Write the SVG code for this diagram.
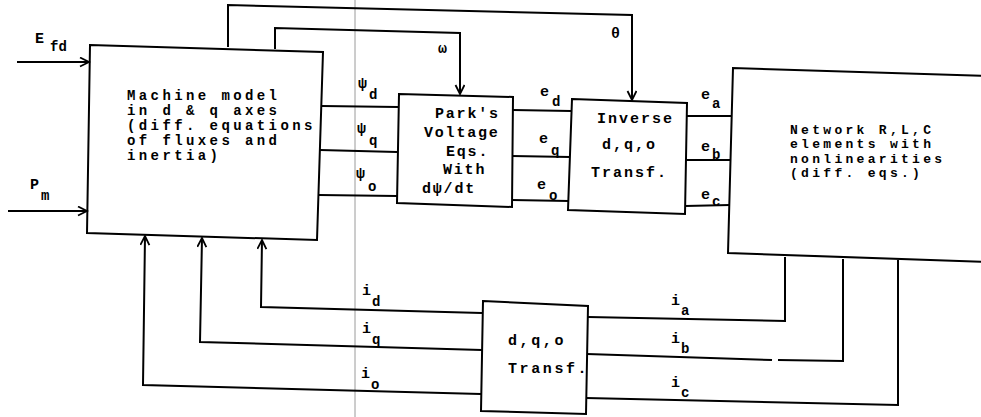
<svg xmlns="http://www.w3.org/2000/svg" width="981" height="417" viewBox="0 0 981 417">
<style>
.box{fill:none;stroke:#000;stroke-width:2;stroke-linejoin:miter}
.ln{fill:none;stroke:#000;stroke-width:2}
.arr{marker-end:url(#ah)}
text{font-family:"Liberation Mono","DejaVu Sans Mono",monospace;font-size:15px;fill:#000;letter-spacing:2.4px}
.mm{font-size:14px;font-weight:bold;letter-spacing:3.4px}
.nw{font-size:13px;font-weight:bold;letter-spacing:3.3px}
.pk{font-size:15px;font-weight:bold;letter-spacing:1.8px}
.lbl{font-size:15px;letter-spacing:0;font-weight:bold}
.sub{font-size:14px}
</style>
<defs>
<marker id="ah" markerWidth="12" markerHeight="12" refX="10" refY="5" orient="auto" markerUnits="userSpaceOnUse">
<path d="M1,0.5 L10,5 L1,9.5" fill="none" stroke="#000" stroke-width="1.8"/>
</marker>
</defs>
<rect width="981" height="417" fill="#fff"/>
<line x1="355" y1="0" x2="355" y2="417" stroke="#9a9a9a" stroke-width="1"/>

<g id="connectors">
<path class="ln arr" d="M17,62 L89,62"/>
<path class="ln arr" d="M8,211 L87,211"/>
<path class="ln arr" d="M228,47 L228,5 L632,15 L632,100"/>
<path class="ln arr" d="M275,49 L275,28 L460,33 L460,94"/>
<path class="ln" d="M322,106 L398,107"/>
<path class="ln" d="M320,150 L397,152"/>
<path class="ln" d="M319,195 L397,196"/>
<path class="ln" d="M513,110 L571,111"/>
<path class="ln" d="M512,156 L570,157"/>
<path class="ln" d="M512,200 L569,201"/>
<path class="ln" d="M686,116 L732,116"/>
<path class="ln" d="M686,160 L731,160"/>
<path class="ln" d="M685,206 L730,205"/>
<path class="ln" d="M785,257 L785,321 L588,317"/>
<path class="ln" d="M843,259 L843,361 L778,360"/>
<path class="ln" d="M772,360 L587,354"/>
<path class="ln" d="M898,260 L898,405 L586,398"/>
<path class="ln arr" d="M482,313 L261,307 L262,240"/>
<path class="ln arr" d="M482,350 L200,342 L202,238"/>
<path class="ln arr" d="M481,394 L143,385 L145,236"/>
</g>

<g id="machine">
<path class="box" d="M90,45 L323,52 L317,240 L87,233 Z"/>
<text class="mm" x="127" y="100">Machine model</text>
<text class="mm" x="127" y="115">in d &amp; q axes</text>
<text class="mm" x="127" y="130">(diff. equations</text>
<text class="mm" x="127" y="145">of fluxes and</text>
<text class="mm" x="127" y="160">inertia)</text>
</g>

<g id="parks">
<path class="box" d="M399,94 L513,97 L512,207 L397,203 Z"/>
<text class="pk" x="435" y="118">Park's</text>
<text class="pk" x="424" y="137">Voltage</text>
<text class="pk" x="446" y="156">Eqs.</text>
<text class="pk" x="443" y="174">With</text>
<text class="pk" x="422" y="193">dψ/dt</text>
</g>

<g id="inverse">
<path class="box" d="M572,99 L687,103 L685,214 L568,210 Z"/>
<text class="pk" x="597" y="123" style="letter-spacing:2px">Inverse</text>
<text class="pk" x="602" y="149" style="letter-spacing:2px">d,q,o</text>
<text class="pk" x="591" y="177" style="letter-spacing:2px">Transf.</text>
</g>

<g id="network">
<path class="box" d="M990,76 L733,68 L728,253 L990,262"/>
<text class="nw" x="790" y="134">Network R,L,C</text>
<text class="nw" x="790" y="148">elements with</text>
<text class="nw" x="790" y="163">nonlinearities</text>
<text class="nw" x="790" y="177">(diff. eqs.)</text>
</g>

<g id="dqo">
<path class="box" d="M483,301 L588,306 L586,414 L481,411 Z"/>
<text class="pk" x="508" y="345" style="letter-spacing:2.6px">d,q,o</text>
<text class="pk" x="508" y="373" style="letter-spacing:2.6px">Transf.</text>
</g>

<g id="labels">
<text class="lbl" x="35" y="43">E<tspan class="sub" x="50" y="51">fd</tspan></text>
<text class="lbl" x="30" y="189">P<tspan class="sub" x="41" y="200">m</tspan></text>
<text class="lbl" x="438" y="53">ω</text>
<text class="lbl" x="611" y="38">θ</text>
<text class="lbl" x="358" y="88">ψ<tspan class="sub" x="369" y="99">d</tspan></text>
<text class="lbl" x="357" y="133">ψ<tspan class="sub" x="369" y="145">q</tspan></text>
<text class="lbl" x="356" y="178">ψ<tspan class="sub" x="368" y="191">o</tspan></text>
<text class="lbl" x="540" y="96">e<tspan class="sub" x="552" y="106">d</tspan></text>
<text class="lbl" x="539" y="143">e<tspan class="sub" x="551" y="155">q</tspan></text>
<text class="lbl" x="537" y="189">e<tspan class="sub" x="549" y="200">o</tspan></text>
<text class="lbl" x="701" y="99">e<tspan class="sub" x="712" y="108">a</tspan></text>
<text class="lbl" x="701" y="151">e<tspan class="sub" x="712" y="159">b</tspan></text>
<text class="lbl" x="701" y="199">e<tspan class="sub" x="712" y="206">c</tspan></text>
<text class="lbl" x="362" y="295">i<tspan class="sub" x="372" y="306">d</tspan></text>
<text class="lbl" x="362" y="333">i<tspan class="sub" x="372" y="344">q</tspan></text>
<text class="lbl" x="361" y="378">i<tspan class="sub" x="371" y="389">o</tspan></text>
<text class="lbl" x="671" y="305">i<tspan class="sub" x="681" y="315">a</tspan></text>
<text class="lbl" x="671" y="343">i<tspan class="sub" x="681" y="353">b</tspan></text>
<text class="lbl" x="671" y="387">i<tspan class="sub" x="681" y="397">c</tspan></text>
</g>
</svg>
